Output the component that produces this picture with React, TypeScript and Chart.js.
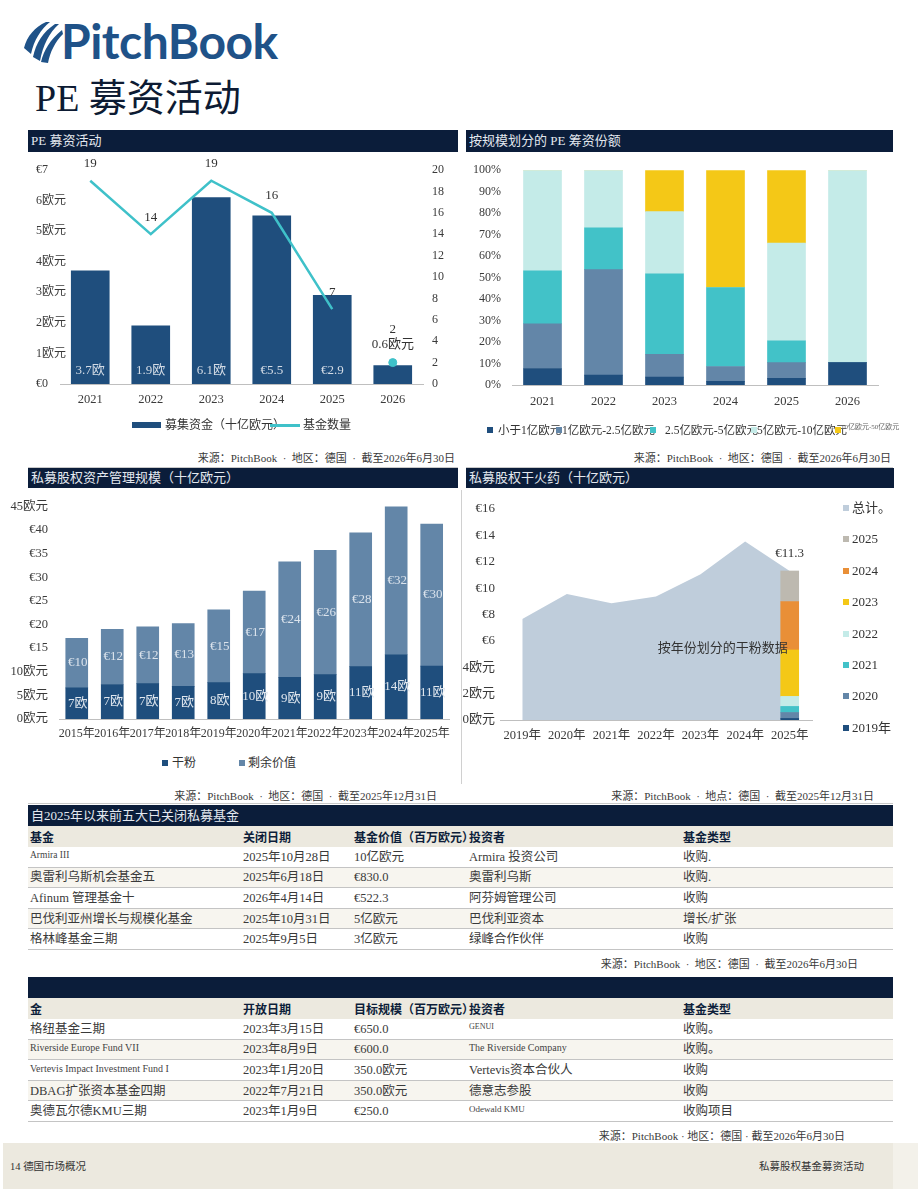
import React, { useEffect, useRef } from "react";
import { Chart, registerables } from "chart.js";

Chart.register(...registerables);

const SERIF = '"Liberation Serif", "Noto Sans CJK SC", serif';
const SANS = '"Noto Sans CJK SC", "Noto Sans", sans-serif';

// ---------- Chart 1: PE 募资活动 ----------
const fundYears = ["2021", "2022", "2023", "2024", "2025", "2026"];
const capitalRaised = [3.7, 1.9, 6.1, 5.5, 2.9, 0.6];
const capitalLabels = ["3.7欧", "1.9欧", "6.1欧", "€5.5", "€2.9", "0.6欧元"];
const fundCount = [19, 14, 19, 16, 7, null];
const fundCountLatest = [null, null, null, null, null, 2];
const capitalTicks = ["€0", "1欧元", "2欧元", "3欧元", "4欧元", "5欧元", "6欧元", "€7"];

// ---------- Chart 2: 按规模划分的 PE 筹资份额 ----------
const sizeYears = ["2021", "2022", "2023", "2024", "2025", "2026"];
const sizeBuckets = ["小于1亿欧元", "1亿欧元-2.5亿欧元", "2.5亿欧元-5亿欧元", "5亿欧元-10亿欧元", "10亿欧元-50亿欧元"];
const shareUnder100m = [7.7, 4.6, 3.7, 1.7, 3.1, 10.4];
const share100to250m = [20.8, 49.1, 10.6, 6.9, 7.3, 0];
const share250to500m = [24.7, 19.5, 37.5, 36.8, 10.2, 0];
const share500mto1b = [46.8, 26.8, 28.9, 0, 45.5, 89.6];
const share1bto5b = [0, 0, 19.3, 54.6, 33.9, 0];
const shareTicks = ["0%", "10%", "20%", "30%", "40%", "50%", "60%", "70%", "80%", "90%", "100%"];

// ---------- Chart 3: 私募股权资产管理规模 ----------
const aumYears = ["2015年", "2016年", "2017年", "2018年", "2019年", "2020年", "2021年", "2022年", "2023年", "2024年", "2025年"];
const dryPowder = [6.6, 7.3, 7.5, 6.9, 7.7, 9.6, 8.8, 9.4, 11.1, 13.6, 11.2];
const remainingValue = [10.5, 11.7, 12.0, 13.3, 15.4, 17.5, 24.5, 26.3, 28.3, 31.5, 30.1];
const dryPowderLabels = ["7欧", "7欧", "7欧", "7欧", "8欧", "10欧", "9欧", "9欧", "11欧", "14欧", "11欧"];
const remainingLabels = ["€10", "€12", "€12", "€13", "€15", "€17", "€24", "€26", "€28", "€32", "€30"];
const aumTicks = ["0欧元", "5欧元", "10欧元", "€15", "€20", "€25", "€30", "€35", "€40", "45欧元"];
const aumSeries = ["干粉", "剩余价值"];

// ---------- Chart 4: 私募股权干火药 ----------
const dpYears = ["2019年", "2020年", "2021年", "2022年", "2023年", "2024年", "2025年"];
const dpTotal = [7.65, 9.55, 8.86, 9.37, 11.06, 13.54, 11.3];
const vintageNames = ["2019年", "2020", "2021", "2022", "2023", "2024", "2025"];
const vintageValues = [0.12, 0.45, 0.46, 0.76, 3.52, 3.67, 2.32];
const dpTicks = ["0欧元", "2欧元", "4欧元", "€6", "€8", "€10", "€12", "€14", "€16"];
const dpTotalName = "总计。";
const dpTotalLabel = "€11.3";
const dpNote = "按年份划分的干粉数据";

// ---------- Tables ----------
const closedHeaders = ["基金", "关闭日期", "基金价值（百万欧元）", "投资者", "基金类型"];
const closedNames = ["Armira III", "奥雷利乌斯机会基金五", "Afinum 管理基金十", "巴伐利亚州增长与规模化基金", "格林峰基金三期"];
const closedDates = ["2025年10月28日", "2025年6月18日", "2026年4月14日", "2025年10月31日", "2025年9月5日"];
const closedValues = ["10亿欧元", "€830.0", "€522.3", "5亿欧元", "3亿欧元"];
const closedInvestors = ["Armira 投资公司", "奥雷利乌斯", "阿芬姆管理公司", "巴伐利亚资本", "绿峰合作伙伴"];
const closedTypes = ["收购.", "收购.", "收购", "增长/扩张", "收购"];

const openHeaders = ["金", "开放日期", "目标规模（百万欧元）", "投资者", "基金类型"];
const openNames = ["格纽基金三期", "Riverside Europe Fund VII", "Vertevis Impact Investment Fund I", "DBAG扩张资本基金四期", "奥德瓦尔德KMU三期"];
const openDates = ["2023年3月15日", "2023年8月9日", "2023年1月20日", "2022年7月21日", "2023年1月9日"];
const openTargets = ["€650.0", "€600.0", "350.0欧元", "350.0欧元", "€250.0"];
const openInvestors = ["GENUI", "The Riverside Company", "Vertevis资本合伙人", "德意志参股", "Odewald KMU"];
const openTypes = ["收购。", "收购。", "收购", "收购", "收购项目"];

// ---------- styling (separate from data) ----------
const NAVY = "#1f4e7d";
const SLATE = "#6386a8";
const TEAL = "#42c2c8";
const LIGHT = "#c4ebe8";
const YELLOW = "#f4c817";
const ORANGE = "#e98f37";
const TAUPE = "#bdb9b0";
const AREA = "#bfcddb";
const BAR_HEAD = "#0b1d3a";
const TICK = "#3a3a3a";
const smallCellSize: Record<string, number> = {
  "Armira III": 9.5,
  "Riverside Europe Fund VII": 10,
  "Vertevis Impact Investment Fund I": 10,
  GENUI: 8,
  "The Riverside Company": 10,
  "Odewald KMU": 9,
};

Chart.defaults.font.family = SERIF;
Chart.defaults.font.size = 12;
Chart.defaults.color = TICK;

const noGrid = { display: false, drawTicks: false };

function ChartCanvas({ left, top, width, height, make }: any) {
  const ref = useRef<HTMLCanvasElement>(null);
  useEffect(() => {
    const chart = new Chart(ref.current as HTMLCanvasElement, make());
    return () => chart.destroy();
  }, []);
  return (
    <canvas
      ref={ref}
      width={width}
      height={height}
      style={{ position: "absolute", left, top, width, height }}
    />
  );
}

function Txt({ x, y, children, size = 12, color = "#333", family = SERIF, weight = 400, align = "left", pre = false }: any) {
  const lh = Math.round(size * 1.5);
  const style: React.CSSProperties = {
    position: "absolute",
    top: y - lh / 2,
    lineHeight: lh + "px",
    fontSize: size,
    color,
    fontFamily: family,
    fontWeight: weight,
    whiteSpace: pre ? "pre" : "nowrap",
  };
  if (align === "right") style.right = 920 - x;
  else style.left = x;
  return <div style={style}>{children}</div>;
}

function Box({ x, y, w, h, bg }: any) {
  return <div style={{ position: "absolute", left: x, top: y, width: w, height: h, background: bg }} />;
}

function HeadBar({ x, y, w, h, title }: any) {
  return (
    <div
      style={{
        position: "absolute", left: x, top: y, width: w, height: h, background: BAR_HEAD,
        color: "#e3e8ef", fontSize: 13, lineHeight: h + "px", paddingLeft: 3, boxSizing: "border-box",
        fontFamily: SERIF, whiteSpace: "nowrap",
      }}
    >
      {title}
    </div>
  );
}

// ---------- chart configs ----------
function makeFundraising() {
  const labelPlugin = {
    id: "fundLabels",
    afterDatasetsDraw(chart: any) {
      const ctx = chart.ctx;
      ctx.save();
      ctx.font = `13px ${SERIF}`;
      ctx.textAlign = "center";
      ctx.textBaseline = "middle";
      chart.getDatasetMeta(0).data.forEach((b: any, i: number) => {
        const h = b.base - b.y;
        if (h > 25) {
          ctx.fillStyle = "#d3dbe5";
          ctx.fillText(capitalLabels[i], b.x, b.base - 13);
        } else {
          ctx.fillStyle = "#333";
          ctx.fillText(capitalLabels[i], b.x, b.y - 21);
        }
      });
      ctx.fillStyle = "#333";
      [1, 2].forEach((di) => {
        const ds = chart.data.datasets[di].data;
        chart.getDatasetMeta(di).data.forEach((p: any, i: number) => {
          if (ds[i] == null) return;
          ctx.fillText(String(ds[i]), p.x, p.y - (di === 2 ? 33 : 17));
        });
      });
      // left axis tick labels (left-aligned, allowed to run into the plot)
      const ys = chart.scales.y;
      ctx.font = `12px ${SERIF}`;
      ctx.textAlign = "left";
      ctx.fillStyle = TICK;
      capitalTicks.forEach((t, i) => {
        ctx.fillText(t, 8, ys.getPixelForValue(i));
      });
      ctx.restore();
    },
  };
  return {
    type: "bar",
    data: {
      labels: fundYears,
      datasets: [
        { type: "bar", label: "募集资金（十亿欧元）", data: capitalRaised, backgroundColor: NAVY, barThickness: 38, yAxisID: "y", order: 2 },
        { type: "line", label: "基金数量", data: fundCount, borderColor: "#3fc1c9", borderWidth: 2.5, pointRadius: 0, yAxisID: "y1", order: 1, spanGaps: false },
        { type: "line", label: "基金数量2026", data: fundCountLatest, borderColor: "#3fc1c9", backgroundColor: "#3fc1c9", pointRadius: 4, showLine: false, yAxisID: "y1", order: 1 },
      ],
    },
    options: {
      responsive: false,
      animation: false,
      layout: { padding: { left: 8, top: 18, right: 0, bottom: 0 } },
      plugins: { legend: { display: false }, tooltip: { enabled: false } },
      scales: {
        x: {
          grid: noGrid, border: { display: true, color: "#bfbfbf" },
          ticks: { padding: 8, font: { size: 12.5 }, color: TICK },
          afterFit: (s: any) => { s.height = 58; },
        },
        y: {
          min: 0, max: 7, grid: noGrid, border: { display: false },
          ticks: { stepSize: 1, display: false },
          afterFit: (s: any) => { s.width = 24; },
        },
        y1: {
          position: "right", min: 0, max: 20, grid: noGrid, border: { display: false },
          ticks: { stepSize: 2, padding: 9, font: { size: 12 }, color: TICK },
          afterFit: (s: any) => { s.width = 35; },
        },
      },
    },
    plugins: [labelPlugin],
  };
}

function makeShare() {
  const series = [shareUnder100m, share100to250m, share250to500m, share500mto1b, share1bto5b];
  const colors = [NAVY, SLATE, TEAL, LIGHT, YELLOW];
  return {
    type: "bar",
    data: {
      labels: sizeYears,
      datasets: series.map((d, i) => ({ label: sizeBuckets[i], data: d, backgroundColor: colors[i], barThickness: 38, stack: "s" })),
    },
    options: {
      responsive: false,
      animation: false,
      layout: { padding: { left: 0, top: 12, right: 15, bottom: 0 } },
      plugins: { legend: { display: false }, tooltip: { enabled: false } },
      scales: {
        x: {
          stacked: true, grid: noGrid, border: { display: true, color: "#bfbfbf" },
          ticks: { padding: 9, font: { size: 12.5 }, color: TICK },
          afterFit: (s: any) => { s.height = 57; },
        },
        y: {
          stacked: true, min: 0, max: 100, grid: noGrid, border: { display: false },
          ticks: { stepSize: 10, padding: 11, font: { size: 12 }, color: TICK, callback: (v: any) => shareTicks[Math.round(v / 10)] },
          afterFit: (s: any) => { s.width = 46; },
        },
      },
    },
  };
}

function makeAum() {
  const labelPlugin = {
    id: "aumLabels",
    afterDatasetsDraw(chart: any) {
      const ctx = chart.ctx;
      ctx.save();
      ctx.font = `13px ${SERIF}`;
      ctx.textAlign = "center";
      ctx.textBaseline = "middle";
      const sets = [dryPowderLabels, remainingLabels];
      const cols = ["#dfe6ee", "#dbe3ec"];
      [0, 1].forEach((di) => {
        chart.getDatasetMeta(di).data.forEach((b: any, i: number) => {
          ctx.fillStyle = cols[di];
          ctx.fillText(sets[di][i], b.x + 1, (b.y + b.base) / 2);
        });
      });
      ctx.restore();
    },
  };
  return {
    type: "bar",
    data: {
      labels: aumYears,
      datasets: [
        { label: aumSeries[0], data: dryPowder, backgroundColor: NAVY, barThickness: 22, stack: "s" },
        { label: aumSeries[1], data: remainingValue, backgroundColor: SLATE, barThickness: 22, stack: "s" },
      ],
    },
    options: {
      responsive: false,
      animation: false,
      layout: { padding: { left: 0, top: 17, right: 7, bottom: 0 } },
      plugins: { legend: { display: false }, tooltip: { enabled: false } },
      scales: {
        x: {
          stacked: true, grid: noGrid, border: { display: true, color: "#bfbfbf" },
          ticks: { autoSkip: false, maxRotation: 0, minRotation: 0, padding: 8, font: { size: 12 }, color: TICK },
          afterFit: (s: any) => { s.height = 34; },
        },
        y: {
          stacked: true, min: 0, max: 45, grid: noGrid, border: { display: false },
          ticks: { stepSize: 5, padding: 11, font: { size: 12.5 }, color: TICK, callback: (v: any) => aumTicks[Math.round(v / 5)] },
          afterFit: (s: any) => { s.width = 59; },
        },
      },
    },
    plugins: [labelPlugin],
  };
}

function makeDryPowder() {
  const colors = [NAVY, SLATE, TEAL, LIGHT, YELLOW, ORANGE, TAUPE];
  const last = dpYears.length - 1;
  const labelPlugin = {
    id: "dpLabels",
    afterDatasetsDraw(chart: any) {
      const ctx = chart.ctx;
      const xs = chart.scales.x;
      const ys = chart.scales.y;
      const total = vintageValues.reduce((a, b) => a + b, 0);
      ctx.save();
      ctx.font = `13px ${SERIF}`;
      ctx.textAlign = "center";
      ctx.textBaseline = "middle";
      ctx.fillStyle = "#333";
      ctx.fillText(dpTotalLabel, xs.getPixelForValue(last), ys.getPixelForValue(total) - 17);
      ctx.fillText(dpNote, (xs.getPixelForValue(4) + xs.getPixelForValue(5)) / 2, ys.getPixelForValue(5.4));
      ctx.restore();
    },
  };
  return {
    type: "bar",
    data: {
      labels: dpYears,
      datasets: [
        { type: "line", label: dpTotalName, data: dpTotal, fill: "origin", backgroundColor: AREA, borderWidth: 0, pointRadius: 0, tension: 0, order: 10, stack: "area" },
        ...vintageNames.map((n, i) => ({
          type: "bar",
          label: n,
          data: dpYears.map((_, j) => (j === last ? vintageValues[i] : null)),
          backgroundColor: colors[i],
          barThickness: 18,
          stack: "v",
          order: 1,
        })),
      ],
    },
    options: {
      responsive: false,
      animation: false,
      layout: { padding: { left: 0, top: 21, right: 81, bottom: 0 } },
      plugins: { legend: { display: false }, tooltip: { enabled: false } },
      scales: {
        x: {
          stacked: true, grid: noGrid, border: { display: true, color: "#bfbfbf" },
          ticks: { autoSkip: false, maxRotation: 0, minRotation: 0, padding: 8, font: { size: 12.5 }, color: TICK },
          afterFit: (s: any) => { s.height = 33; },
        },
        y: {
          stacked: true, min: 0, max: 16, grid: noGrid, border: { display: false },
          ticks: { stepSize: 2, padding: 5, font: { size: 13 }, color: TICK, callback: (v: any) => dpTicks[Math.round(v / 2)] },
          afterFit: (s: any) => { s.width = 38; },
        },
      },
    },
    plugins: [labelPlugin],
  };
}

// ---------- table ----------
const COLS = [30, 243, 354, 469, 683];

function DataTable({ top, title, headers, columns, source, sourceRight }: any) {
  const barH = 21;
  const headTop = top + barH;
  const rowTop = headTop + 21;
  const rowH = 20.6;
  const n = columns[0].length;
  const els: any[] = [];
  els.push(<HeadBar key="bar" x={28} y={top} w={865} h={barH} title={title} />);
  els.push(<Box key="hbg" x={28} y={headTop} w={865} h={21} bg="#ece9df" />);
  headers.forEach((h: string, i: number) => {
    els.push(
      <Txt key={"h" + i} x={COLS[i]} y={headTop + 10.5} size={12} weight={700} family={SANS} color="#0d1e3a">{h}</Txt>
    );
  });
  for (let r = 0; r < n; r++) {
    const y0 = rowTop + r * rowH;
    els.push(<Box key={"bg" + r} x={28} y={y0} w={865} h={rowH} bg={r % 2 === 1 ? "#f7f5ef" : "#ffffff"} />);
    els.push(<Box key={"ln" + r} x={28} y={y0 + rowH - 1} w={865} h={r === 3 ? 1.5 : 1} bg="#c4c4c4" />);
    columns.forEach((col: string[], c: number) => {
      const text = col[r];
      const small = smallCellSize[text];
      if (small) {
        els.push(<Txt key={`c${r}-${c}`} x={COLS[c]} y={y0 + 8} size={small} color="#444">{text}</Txt>);
      } else {
        els.push(<Txt key={`c${r}-${c}`} x={COLS[c]} y={y0 + rowH / 2} size={12.5} color="#3a3a3a">{text}</Txt>);
      }
    });
  }
  const endY = rowTop + n * rowH;
  els.push(
    <Txt key="src" x={sourceRight} y={endY + 14.5} size={11} color="#3a3a3a" align="right" pre>{source}</Txt>
  );
  return <>{els}</>;
}

function LegendSquare({ x, y, color, size = 6 }: any) {
  return <Box x={x} y={y - size / 2} w={size} h={size} bg={color} />;
}

export default function App() {
  const dpLegend = [
    { name: dpTotalName, color: AREA },
    { name: vintageNames[6], color: TAUPE },
    { name: vintageNames[5], color: ORANGE },
    { name: vintageNames[4], color: YELLOW },
    { name: vintageNames[3], color: LIGHT },
    { name: vintageNames[2], color: TEAL },
    { name: vintageNames[1], color: SLATE },
    { name: vintageNames[0], color: NAVY },
  ];
  const shareLegendX = [[487, 498], [556, 562], [650, 665], [751, 757], [835, 841]];
  const shareColors = [NAVY, SLATE, TEAL, LIGHT, YELLOW];

  return (
    <div style={{ position: "absolute", left: 0, top: 0, width: 920, height: 1191, background: "#fff", overflow: "hidden", fontFamily: SERIF }}>
      {/* Logo */}
      <svg style={{ position: "absolute", left: 0, top: 0 }} width={80} height={80}>
        <path d="M24 48 C27 36 35 27 46 22 L50 22 C41 29 34 40 31 54 Z" fill="#1f5288" />
        <path d="M33 57 C36 43 43 32 55 24 L59 24 C49 33 43 45 40 61 Z" fill="#1f5288" />
        <path d="M41 62 C44 50 50 40 62 30 L63 34 C55 42 50 52 48 63 Z" fill="#1f5288" />
      </svg>
      <div style={{ position: "absolute", left: 61, top: 17, fontFamily: "Lato, 'Open Sans', sans-serif", fontWeight: 700, fontSize: 48, lineHeight: "48px", color: "#1f5288", letterSpacing: -0.5 }}>
        PitchBook
      </div>
      <div style={{ position: "absolute", left: 35, top: 74, fontFamily: SERIF, fontSize: 38, lineHeight: "48px", color: "#0d1b33", whiteSpace: "nowrap" }}>
        PE 募资活动
      </div>

      {/* Panel headers */}
      <HeadBar x={28} y={130} w={430} h={22} title="PE 募资活动" />
      <HeadBar x={466} y={130} w={427} h={22} title="按规模划分的 PE 筹资份额" />
      <HeadBar x={28} y={468} w={430} h={20} title="私募股权资产管理规模（十亿欧元）" />
      <HeadBar x={466} y={468} w={428} h={20} title="私募股权干火药（十亿欧元）" />

      {/* Charts */}
      <ChartCanvas left={28} top={152} width={430} height={290} make={makeFundraising} />
      <ChartCanvas left={466} top={152} width={427} height={290} make={makeShare} />
      <ChartCanvas left={0} top={488} width={458} height={265} make={makeAum} />
      <ChartCanvas left={462} top={488} width={431} height={265} make={makeDryPowder} />

      {/* Chart 1 legend */}
      <Box x={132} y={422} w={29} h={6} bg={NAVY} />
      <Txt x={165} y={425} size={12}>募集资金（十亿欧元）</Txt>
      <Box x={270} y={424} w={30} h={2.5} bg="#3fc1c9" />
      <Txt x={303} y={425} size={12}>基金数量</Txt>

      {/* Chart 2 legend */}
      {sizeBuckets.map((b, i) => (
        <React.Fragment key={b}>
          <LegendSquare x={shareLegendX[i][0]} y={430} color={shareColors[i]} />
          <Txt x={shareLegendX[i][1]} y={i === 4 ? 427 : 430} size={i === 4 ? 7 : 11.5} color={i === 4 ? "#666" : "#333"}>{b}</Txt>
        </React.Fragment>
      ))}

      {/* Chart 3 legend */}
      <LegendSquare x={162} y={763} color={NAVY} />
      <Txt x={172} y={763} size={12}>{aumSeries[0]}</Txt>
      <LegendSquare x={239} y={763} color={SLATE} />
      <Txt x={248} y={763} size={12}>{aumSeries[1]}</Txt>

      {/* Chart 4 legend */}
      {dpLegend.map((it, i) => (
        <React.Fragment key={it.name}>
          <LegendSquare x={843} y={508 + i * 31.4} color={it.color} />
          <Txt x={852} y={508 + i * 31.4} size={13}>{it.name}</Txt>
        </React.Fragment>
      ))}

      {/* Sources */}
      <Txt x={455} y={458} size={11} align="right" pre color="#3a3a3a">{"来源：PitchBook  ·  地区：德国  ·  截至2026年6月30日"}</Txt>
      <Txt x={891} y={458} size={11} align="right" pre color="#3a3a3a">{"来源：PitchBook  ·  地区：德国  ·  截至2026年6月30日"}</Txt>
      <Txt x={437} y={796} size={11} align="right" pre color="#3a3a3a">{"来源：PitchBook  ·  地区：德国  ·  截至2025年12月31日"}</Txt>
      <Txt x={874} y={796} size={11} align="right" pre color="#3a3a3a">{"来源：PitchBook  ·  地点：德国  ·  截至2025年12月31日"}</Txt>

      {/* Rules */}
      <Box x={28} y={467} w={430} h={1} bg="#c9c9c9" />
      <Box x={466} y={467} w={427} h={1} bg="#c9c9c9" />
      <Box x={461} y={490} w={1} h={294} bg="#d0d0d0" />
      <Box x={28} y={803} w={865} h={1} bg="#c9c9c9" />

      {/* Tables */}
      <DataTable
        top={805}
        title="自2025年以来前五大已关闭私募基金"
        headers={closedHeaders}
        columns={[closedNames, closedDates, closedValues, closedInvestors, closedTypes]}
        source={"来源：PitchBook  ·  地区：德国  ·  截至2026年6月30日"}
        sourceRight={858}
      />
      <DataTable
        top={977}
        title=""
        headers={openHeaders}
        columns={[openNames, openDates, openTargets, openInvestors, openTypes]}
        source={"来源：PitchBook · 地区：德国 · 截至2026年6月30日"}
        sourceRight={845}
      />

      {/* Footer */}
      <Box x={3} y={1143} w={890} h={46} bg="#ece9df" />
      <Box x={893} y={1143} w={25} h={46} bg="#f3f1ea" />
      <Txt x={10} y={1167} size={10.5} color="#333">14 德国市场概况</Txt>
      <Txt x={864} y={1167} size={10.5} color="#333" align="right">私募股权基金募资活动</Txt>
    </div>
  );
}
